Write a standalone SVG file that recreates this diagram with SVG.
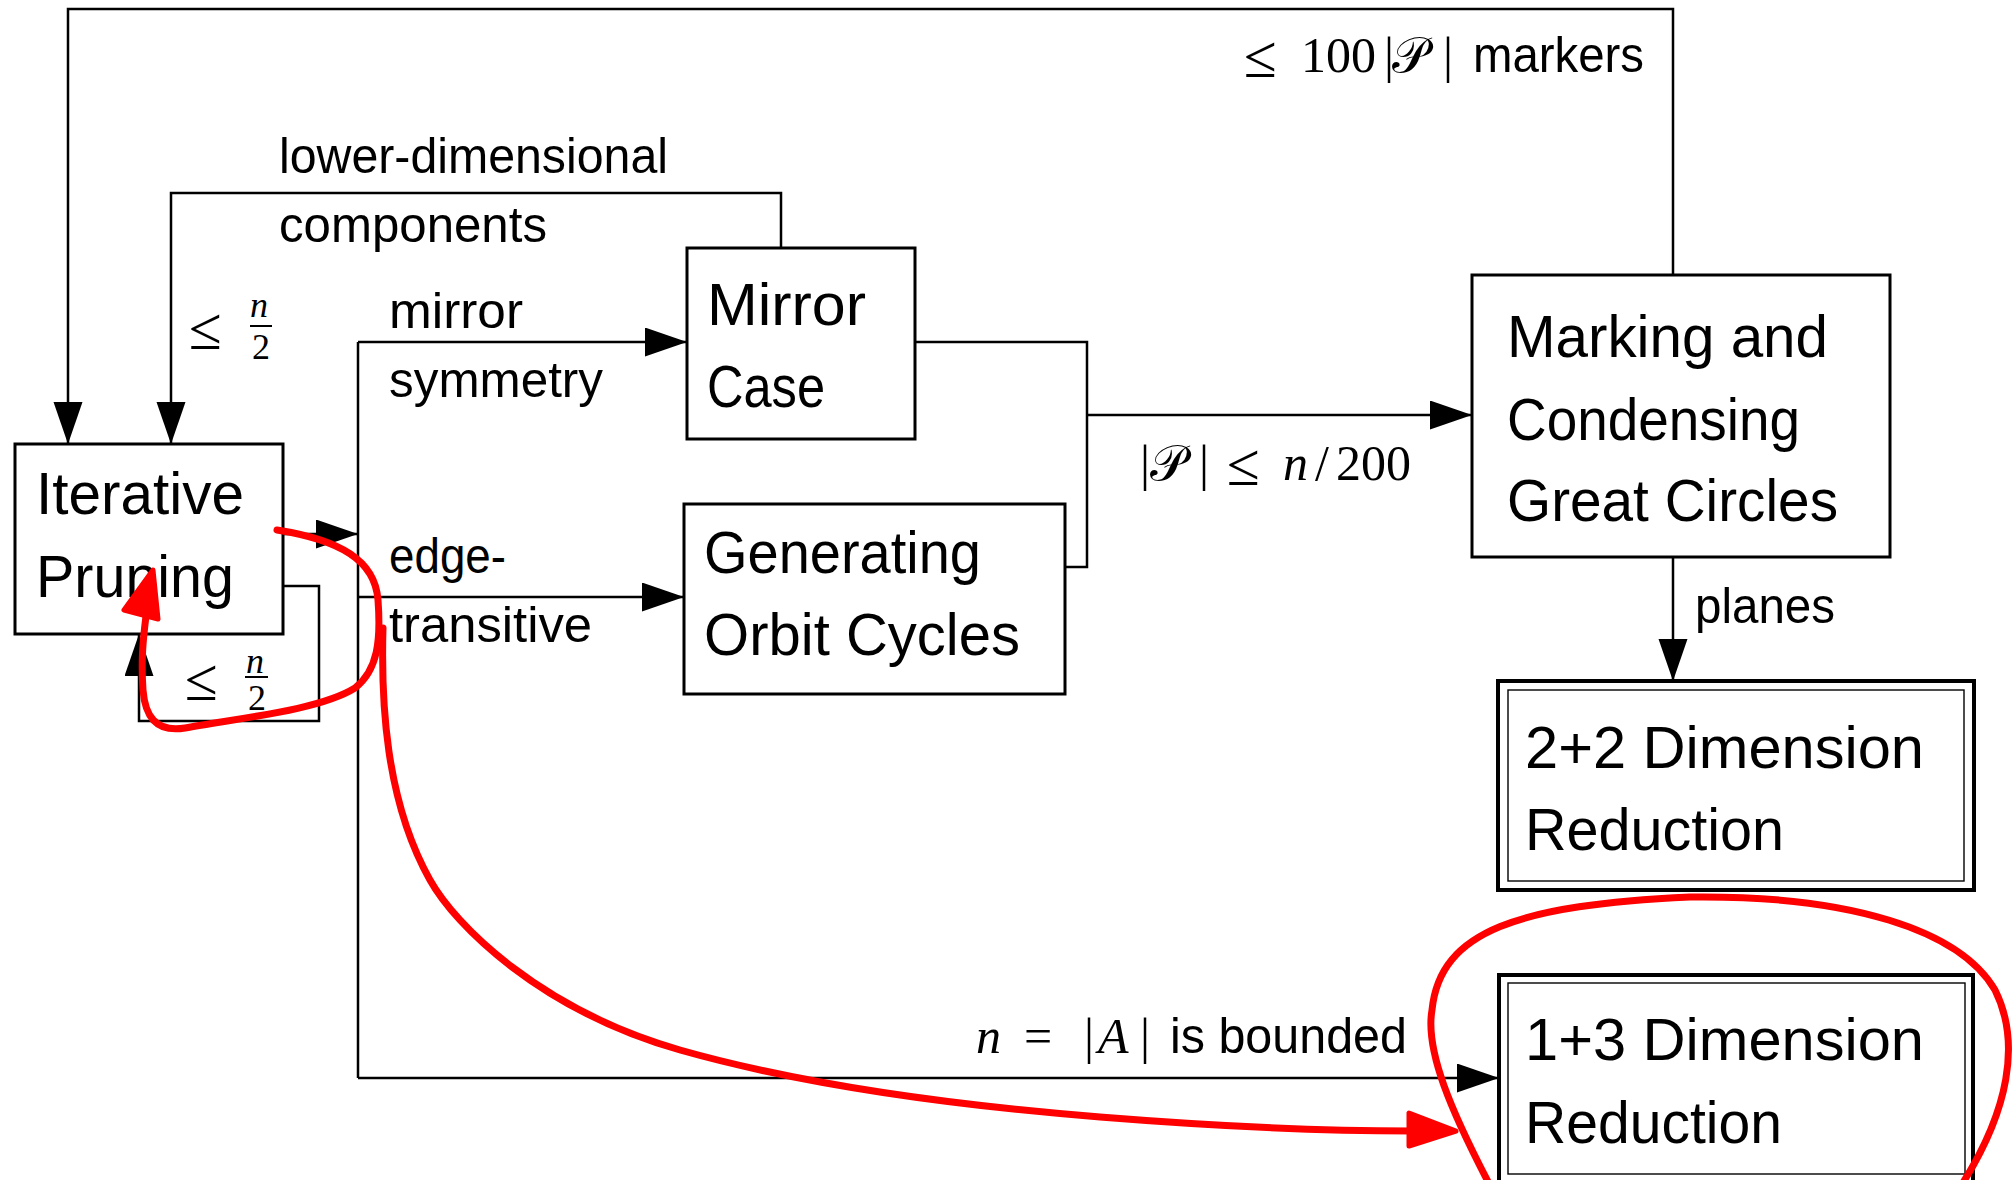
<svg xmlns="http://www.w3.org/2000/svg" width="2015" height="1180" viewBox="0 0 2015 1180">
  <defs>
    <marker id="arrow" markerUnits="userSpaceOnUse" markerWidth="42" markerHeight="30" refX="42" refY="14.5" orient="auto">
      <path d="M0,0 L42,14.5 L0,29 z" fill="#000"/>
    </marker>
    <style>
      .box { fill: #fff; stroke: #000; stroke-width: 3; }
      .outer { fill: #fff; stroke: #000; stroke-width: 4; }
      .inner { fill: none; stroke: #000; stroke-width: 1.4; }
      .wire { fill: none; stroke: #000; stroke-width: 2.5; }
      .node-text { font-family: "Liberation Sans", "DejaVu Sans", sans-serif; font-size: 60px; fill: #000; }
      .label { font-family: "Liberation Sans", "DejaVu Sans", sans-serif; font-size: 50px; fill: #000; }
      .math { font-family: "Liberation Serif", "DejaVu Serif", serif; font-size: 50px; fill: #000; }
      .rel { font-family: "Liberation Serif", "DejaVu Serif", serif; font-size: 60px; fill: #000; }
      .frac { font-family: "Liberation Serif", "DejaVu Serif", serif; font-size: 36px; fill: #000; }
      .it { font-style: italic; }
      .scr { font-family: "DejaVu Sans", "Noto Sans", "Liberation Serif", serif; font-style: normal; }
      .pen { fill: none; stroke: #ff0000; stroke-width: 7; stroke-linecap: round; stroke-linejoin: round; }
      .pen-head { fill: #ff0000; stroke: #ff0000; stroke-width: 5; stroke-linejoin: round; }
    </style>
  </defs>

  <rect width="2015" height="1180" fill="#fff"/>

  <!-- connectors -->
  <g id="connectors">
    <!-- marker feedback loop from the top box back to pruning -->
    <path class="wire" d="M1673 275 V9 H68 V444" marker-end="url(#arrow)"/>
    <!-- lower-dimensional components loop -->
    <path class="wire" d="M781 248 V193 H171 V444" marker-end="url(#arrow)"/>
    <!-- pruning into the bus -->
    <path class="wire" d="M283 534 H358" marker-end="url(#arrow)"/>
    <!-- self loop under pruning -->
    <path class="wire" d="M283 586 H319 V721 H139 V634" marker-end="url(#arrow)"/>
    <!-- vertical bus -->
    <path class="wire" d="M358 342 V1078"/>
    <path class="wire" d="M358 342 H687" marker-end="url(#arrow)"/>
    <path class="wire" d="M358 597 H684" marker-end="url(#arrow)"/>
    <path class="wire" d="M358 1078 H1499" marker-end="url(#arrow)"/>
    <!-- merge of mirror and orbit outputs -->
    <path class="wire" d="M915 342 H1087 V567 H1065"/>
    <path class="wire" d="M1087 415 H1472" marker-end="url(#arrow)"/>
    <!-- planes -->
    <path class="wire" d="M1673 557 V681" marker-end="url(#arrow)"/>

    <!-- edge labels -->
    <text class="label" x="279" y="173" textLength="389" lengthAdjust="spacingAndGlyphs">lower-dimensional</text>
    <text class="label" x="279" y="242" textLength="268" lengthAdjust="spacingAndGlyphs">components</text>
    <text class="label" x="389" y="328" textLength="134" lengthAdjust="spacingAndGlyphs">mirror</text>
    <text class="label" x="389" y="397" textLength="214" lengthAdjust="spacingAndGlyphs">symmetry</text>
    <text class="label" x="389" y="573" textLength="117" lengthAdjust="spacingAndGlyphs">edge-</text>
    <text class="label" x="389" y="642" textLength="203" lengthAdjust="spacingAndGlyphs">transitive</text>
    <text class="label" x="1695" y="623" textLength="140" lengthAdjust="spacingAndGlyphs">planes</text>

    <!-- ≤ 100|P| markers -->
    <text class="rel" x="1244" y="77">≤</text>
    <text class="math" y="72"><tspan x="1301">100</tspan><tspan x="1384">|</tspan><tspan class="scr" x="1392">𝒫</tspan><tspan x="1443">|</tspan></text>
    <text class="label" x="1473" y="72" textLength="171" lengthAdjust="spacingAndGlyphs">markers</text>

    <!-- |P| ≤ n/200 -->
    <text class="math" y="480"><tspan x="1140">|</tspan><tspan class="scr" x="1150">𝒫</tspan><tspan x="1199">|</tspan></text>
    <text class="rel" x="1227" y="485">≤</text>
    <text class="math" y="480"><tspan class="it" x="1283">n</tspan><tspan x="1315">/</tspan><tspan x="1336">200</tspan></text>

    <!-- n = |A| is bounded -->
    <text class="math" y="1053"><tspan class="it" x="976">n</tspan><tspan x="1024">=</tspan><tspan x="1084">|</tspan><tspan class="it" x="1098">A</tspan><tspan x="1140">|</tspan></text>
    <text class="label" x="1170" y="1053" textLength="237" lengthAdjust="spacingAndGlyphs">is bounded</text>

    <!-- ≤ n/2 on the components loop -->
    <text class="rel" x="189" y="349">≤</text>
    <text class="frac it" x="250" y="317">n</text>
    <line x1="250" y1="326" x2="272" y2="326" stroke="#000" stroke-width="2"/>
    <text class="frac" x="252" y="359">2</text>

    <!-- ≤ n/2 on the self loop -->
    <text class="rel" x="185" y="700">≤</text>
    <text class="frac it" x="246" y="673">n</text>
    <line x1="245" y1="677" x2="268" y2="677" stroke="#000" stroke-width="2"/>
    <text class="frac" x="248" y="710">2</text>
  </g>

  <!-- nodes -->
  <g id="iterative-pruning">
    <rect class="box" x="15" y="444" width="268" height="190"/>
    <text class="node-text" x="36" y="514" textLength="208" lengthAdjust="spacingAndGlyphs">Iterative</text>
    <text class="node-text" x="36" y="597" textLength="198" lengthAdjust="spacingAndGlyphs">Pruning</text>
  </g>

  <g id="mirror-case">
    <rect class="box" x="687" y="248" width="228" height="191"/>
    <text class="node-text" x="707" y="325" textLength="159" lengthAdjust="spacingAndGlyphs">Mirror</text>
    <text class="node-text" x="707" y="407" textLength="118" lengthAdjust="spacingAndGlyphs">Case</text>
  </g>

  <g id="orbit-cycles">
    <rect class="box" x="684" y="504" width="381" height="190"/>
    <text class="node-text" x="704" y="573" textLength="277" lengthAdjust="spacingAndGlyphs">Generating</text>
    <text class="node-text" x="704" y="655" textLength="316" lengthAdjust="spacingAndGlyphs">Orbit Cycles</text>
  </g>

  <g id="marking-condensing">
    <rect class="box" x="1472" y="275" width="418" height="282"/>
    <text class="node-text" x="1507" y="357" textLength="321" lengthAdjust="spacingAndGlyphs">Marking and</text>
    <text class="node-text" x="1507" y="440" textLength="293" lengthAdjust="spacingAndGlyphs">Condensing</text>
    <text class="node-text" x="1507" y="521" textLength="331" lengthAdjust="spacingAndGlyphs">Great Circles</text>
  </g>

  <g id="reduction-2-2">
    <rect class="outer" x="1498" y="681" width="476" height="209"/>
    <rect class="inner" x="1508" y="690" width="456" height="191"/>
    <text class="node-text" x="1525" y="768" textLength="399" lengthAdjust="spacingAndGlyphs">2+2 Dimension</text>
    <text class="node-text" x="1525" y="850" textLength="259" lengthAdjust="spacingAndGlyphs">Reduction</text>
  </g>

  <g id="reduction-1-3">
    <rect class="outer" x="1499" y="975" width="474" height="210"/>
    <rect class="inner" x="1508" y="983" width="457" height="191"/>
    <text class="node-text" x="1525" y="1060" textLength="399" lengthAdjust="spacingAndGlyphs">1+3 Dimension</text>
    <text class="node-text" x="1525" y="1143" textLength="257" lengthAdjust="spacingAndGlyphs">Reduction</text>
  </g>

  <!-- hand-drawn red annotation -->
  <g id="annotation">
    <path class="pen" d="M277 530 C340 540, 375 560, 378 600 C381 640, 378 670, 355 688 C320 710, 240 718, 185 728 C155 733, 145 715, 143 690 C141 660, 143 640, 146 616"/>
    <polygon class="pen-head" points="153,570 124,610 158,619"/>
    <path class="pen" d="M383 628 C381 700, 385 800, 430 880 C455 925, 540 1010, 680 1050 C800 1084, 950 1105, 1100 1117 C1250 1129, 1350 1131, 1412 1131"/>
    <polygon class="pen-head" points="1456,1131 1409,1113 1409,1146"/>
    <path class="pen" d="M1495 1195 C1450 1110, 1425 1050, 1432 1010 C1440 930, 1520 905, 1690 897 C1850 895, 1960 930, 1995 990 C2020 1040, 2012 1110, 1955 1195"/>
  </g>
</svg>
